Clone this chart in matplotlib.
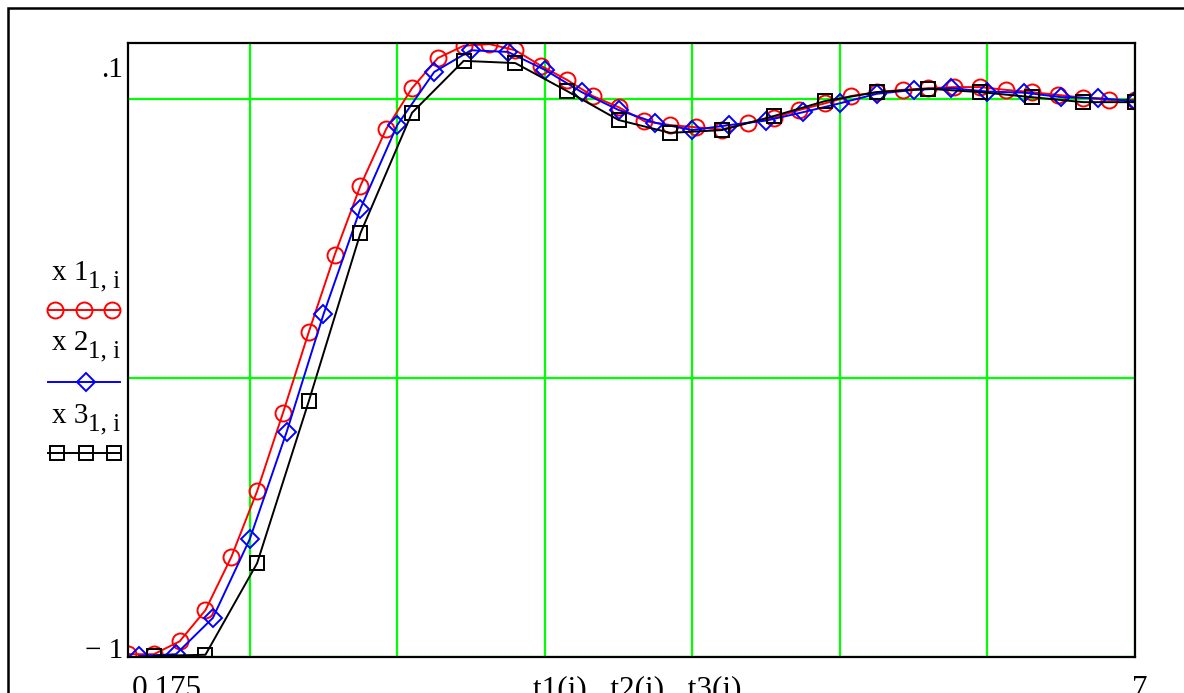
import matplotlib
matplotlib.use("Agg")
import matplotlib.pyplot as plt
from matplotlib.patches import Rectangle
from matplotlib.lines import Line2D

plt.rcParams['font.family'] = ['Liberation Serif', 'DejaVu Serif']

# time grids of the three solutions
t1 = [0.175 * i for i in range(1, 41)]
t2 = [0.25 * i for i in range(1, 29)]
t3 = [0.35 * i for i in range(1, 21)]

x1 = [-0.995, -0.995, -0.972, -0.916, -0.821, -0.703, -0.563, -0.418, -0.280, -0.156,
      -0.054, 0.019, 0.073, 0.095, 0.098, 0.087, 0.059, 0.034, 0.005, -0.015,
      -0.040, -0.047, -0.051, -0.055, -0.043, -0.034, -0.020, -0.008, 0.005, 0.012,
      0.016, 0.019, 0.021, 0.021, 0.016, 0.012, 0.007, 0.002, -0.002, -0.002]
x2 = [-0.998, -0.995, -0.930, -0.789, -0.597, -0.386, -0.197, -0.047, 0.048, 0.087,
      0.084, 0.052, 0.012, -0.020, -0.043, -0.056, -0.047, -0.039, -0.024, -0.008,
      0.009, 0.016, 0.019, 0.013, 0.011, 0.003, 0.001, -0.004]
x3 = [-0.998, -0.996, -0.832, -0.542, -0.241, -0.025, 0.068, 0.064, 0.014, -0.038,
      -0.061, -0.056, -0.031, -0.004, 0.012, 0.018, 0.012, 0.003, -0.006, -0.006]

W, H = 1184, 693
fig = plt.figure(figsize=(W / 100, H / 100), dpi=100)

def fx(px):
    return px / W

def fy(py):
    return 1 - py / H

L, R, T, B = 128, 1135, 43, 657
ax = fig.add_axes([fx(L), fy(B), fx(R) - fx(L), fy(T) - fy(B)])
ax.set_xlim(0.175, 7)
ax.set_ylim(-1, 0.1)

green = '#00ff00'
for gx in range(1, 8):
    ax.axvline(gx, color=green, lw=1.6, zorder=1)
for gy in (-1, -0.5, 0):
    ax.axhline(gy, color=green, lw=1.6, zorder=1)

red, blue, black = '#ff0000', '#0000ff', '#000000'
ms_o, ms_d, ms_s = 11.5, 9.0, 10.5
ax.plot(t1, x1, color=red, lw=1.4, marker='o', ms=ms_o, mfc='none',
        mec=red, mew=1.4, zorder=3)
ax.plot(t2, x2, color=blue, lw=1.4, marker='D', ms=ms_d, mfc='none',
        mec=blue, mew=1.4, zorder=4)
ax.plot(t3, x3, color=black, lw=1.4, marker='s', ms=ms_s, mfc='none',
        mec=black, mew=1.4, zorder=5)

ax.set_xticks([])
ax.set_yticks([])
for s in ax.spines.values():
    s.set_linewidth(1.6)
    s.set_color('black')
    s.set_zorder(6)

# outer frame (runs past the right and bottom edges)
fig.patches.append(Rectangle((fx(8), fy(1200)), fx(1400) - fx(8), fy(8) - fy(1200),
                             transform=fig.transFigure, fill=False,
                             edgecolor='black', lw=1.8))

fs = 21
# axis limit labels
fig.text(fx(123), fy(57), '.1', ha='right', va='top', fontsize=fs)
fig.text(fx(123), fy(658), '\u2212 1', ha='right', va='baseline', fontsize=fs)
fig.text(fx(132), fy(697), '0.175', ha='left', va='baseline', fontsize=22.5)
fig.text(fx(637), fy(697), 't1(i),  t2(i),  t3(i)', ha='center', va='baseline',
         fontsize=22.5)
fig.text(fx(1148), fy(697), '7', ha='right', va='baseline', fontsize=22.5)

# legend labels: name plus subscript
label_y = [280, 350, 423]
for k, yb in enumerate(label_y, start=1):
    fig.text(fx(52), fy(yb), f'x {k}', ha='left', va='baseline', fontsize=fs)
    fig.text(fx(88), fy(yb + 7), '1, i', ha='left', va='baseline', fontsize=18)

legend_rows = [
    (310, red, 'o', ms_o, [55, 84, 112]),
    (382, blue, 'D', ms_d, [86]),
    (453, black, 's', ms_s, [57, 86, 114]),
]
for yy, col, mk, ms, mxs in legend_rows:
    fig.add_artist(Line2D([fx(48), fx(120)], [fy(yy), fy(yy)], color=col, lw=1.4,
                          transform=fig.transFigure))
    fig.add_artist(Line2D([fx(v) for v in mxs], [fy(yy)] * len(mxs), ls='none',
                          marker=mk, ms=ms, mfc='none', mec=col, mew=1.4,
                          transform=fig.transFigure))

fig.savefig('out.png', dpi=100)
